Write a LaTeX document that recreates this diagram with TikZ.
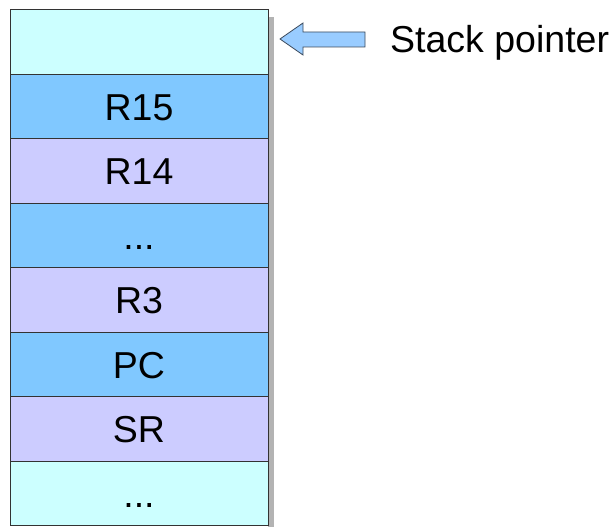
\documentclass[tikz,border=0pt]{standalone}
\usepackage{fontspec}
\setmainfont{Liberation Sans}
\definecolor{cellcyan}{HTML}{CCFFFF}
\definecolor{cellblue}{HTML}{80C8FF}
\definecolor{celllav}{HTML}{CCCCFF}
\definecolor{arrowfill}{HTML}{99CCFF}
\definecolor{arrowline}{HTML}{3C4A5C}
\definecolor{shadowgray}{HTML}{B3B3B3}
\begin{document}
\begin{tikzpicture}[x=1pt,y=1pt,
  bigtext/.style={font=\fontsize{37.5}{37.5}\selectfont, text height=26.9pt, text depth=0pt},
  cell/.style={bigtext, draw=black!80, line width=1pt, minimum width=258pt, minimum height=64.5pt,
    inner sep=0pt, outer sep=0pt, anchor=north west},
  label/.style={bigtext, anchor=west, inner sep=0pt}]
\useasboundingbox (0,0) rectangle (611,527);
% drop shadow on the right of the stack
\fill[shadowgray] (268,510) rectangle (274,0);
% stack frame cells, top to bottom
\node[cell, fill=cellcyan] (c0) at (10,517) {};
\node[cell, fill=cellblue] (c1) at (c0.south west) {R15};
\node[cell, fill=celllav]  (c2) at (c1.south west) {R14};
\node[cell, fill=cellblue] (c3) at (c2.south west) {...};
\node[cell, fill=celllav]  (c4) at (c3.south west) {R3};
\node[cell, fill=cellblue] (c5) at (c4.south west) {PC};
\node[cell, fill=celllav]  (c6) at (c5.south west) {SR};
\node[cell, fill=cellcyan] (c7) at (c6.south west) {...};
% block arrow pointing at the top cell
\draw[arrowline, fill=arrowfill, line width=0.8pt, line join=miter]
  (280,488) -- (303,504) -- (303,495) -- (365,495) -- (365,480)
  -- (303,480) -- (303,472) -- cycle;
\node[label] (sp) at (390,488) {Stack pointer};
\end{tikzpicture}
\end{document}
